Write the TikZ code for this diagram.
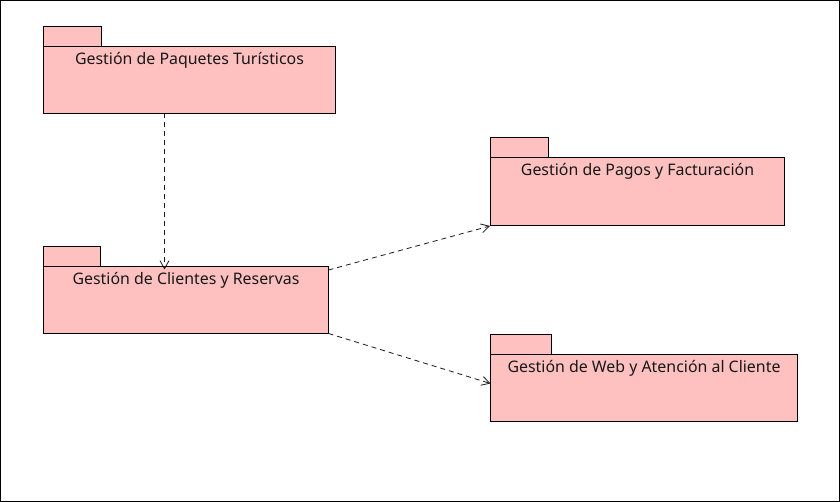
\documentclass[tikz,border=0pt]{standalone}
\usepackage{fontspec}
\setmainfont{Noto Sans}
\usetikzlibrary{arrows.meta,calc}
\definecolor{pkgfill}{RGB}{255,192,192}
\definecolor{lnc}{RGB}{24,24,24}
\tikzset{
  pkgbody/.style={draw=black,fill=pkgfill,line width=1pt,inner sep=0pt,outer sep=0pt,anchor=north west,rectangle},
  pkgtab/.style={draw=black,fill=pkgfill,line width=1pt,inner sep=0pt,outer sep=0pt,anchor=south west,rectangle,minimum height=20pt},
  pkgtext/.style={anchor=base,inner sep=0pt,font=\fontsize{15.9}{18}\selectfont,text=lnc},
  dep/.style={draw=lnc,line width=0.8pt,dash pattern=on 5pt off 4pt,-{Straight Barb[length=8pt,width=9pt,line width=0.8pt]}}
}
\begin{document}
\begin{tikzpicture}[x=1pt,y=-1pt]
\useasboundingbox (0,0) rectangle (840,502);
\draw[line width=1pt,black] (0.5,0.5) rectangle (839.5,501.5);
% package 1
\node[pkgtab,minimum width=58pt] (p1t) at (43.5,46.5) {};
\node[pkgbody,minimum width=292pt,minimum height=67pt] (p1) at (43.5,46.5) {};
\node[pkgtext] (t1) at ($(p1.north)+(0,18)$) {Gestión de Paquetes Turísticos};
% package 2
\node[pkgtab,minimum width=57pt] (p2t) at (43.5,266.5) {};
\node[pkgbody,minimum width=285pt,minimum height=67pt] (p2) at (43.5,266.5) {};
\node[pkgtext] (t2) at ($(p2.north)+(0,18)$) {Gestión de Clientes y Reservas};
% package 3
\node[pkgtab,minimum width=58pt] (p3t) at (490.5,157.5) {};
\node[pkgbody,minimum width=294pt,minimum height=68pt] (p3) at (490.5,157.5) {};
\node[pkgtext] (t3) at ($(p3.north)+(0,18)$) {Gestión de Pagos y Facturación};
% package 4
\node[pkgtab,minimum width=61pt] (p4t) at (490.5,354.5) {};
\node[pkgbody,minimum width=307pt,minimum height=67pt] (p4) at (490.5,354.5) {};
\node[pkgtext] (t4) at ($(p4.north)+(0,18)$) {Gestión de Web y Atención al Cliente};
% dependencies
\draw[dep] ($(p1.south)+(-25,0)$) -- ($(p2.north)+(-21.5,3)$);
\draw[dep] ($(p2.north east)+(0,3.5)$) -- ($(p3.south west)+(-0.5,0.5)$);
\draw[dep] (p2.south east) -- ($(p4.north west)+(0,29)$);
\end{tikzpicture}
\end{document}
